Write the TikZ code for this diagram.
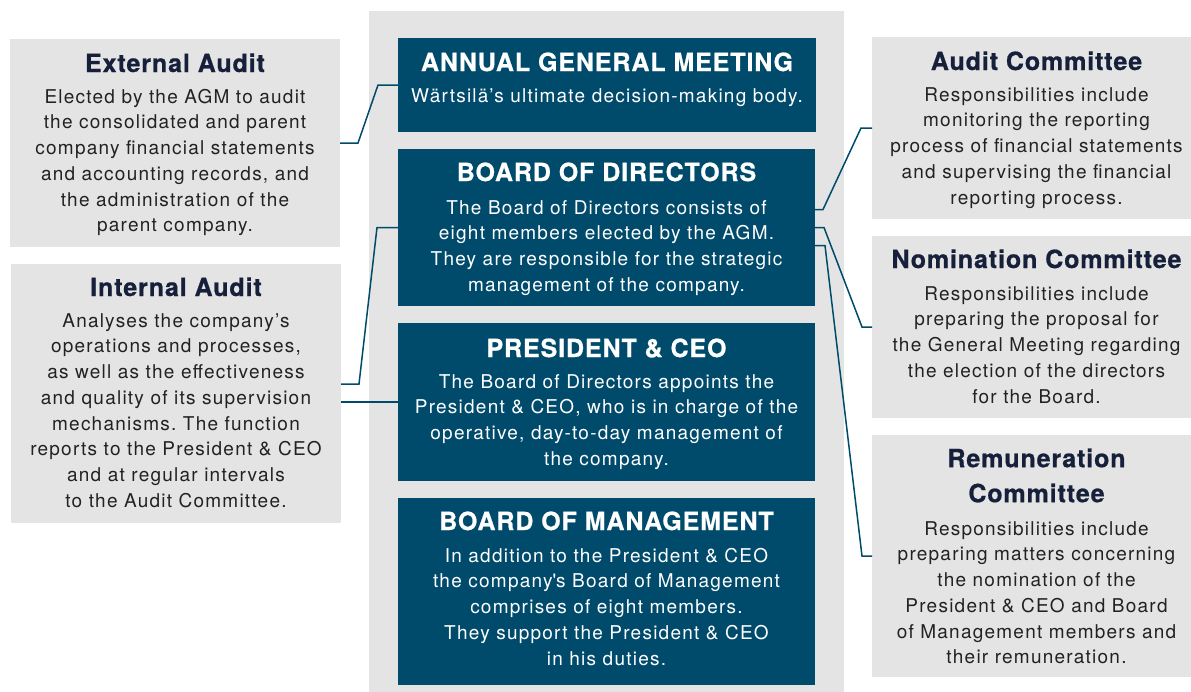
\documentclass[tikz,border=0pt]{standalone}
\usepackage{fontspec}
\setmainfont{TeX Gyre Heros}
\newfontfamily\bodyfont[LetterSpace=6.5]{TeX Gyre Heros}
\newfontfamily\titlefont[LetterSpace=3.6,BoldFeatures={FakeBold=0.7}]{TeX Gyre Heros}
\usetikzlibrary{calc}
\definecolor{wblue}{HTML}{004B6C}
\definecolor{wgrey}{HTML}{E4E4E4}
\definecolor{wnavy}{HTML}{16203A}
\definecolor{wtext}{HTML}{222222}
\newcommand{\fb}{\rule{0pt}{15pt}}
\newcommand{\ft}{\rule{0pt}{20pt}}
\frenchspacing
\tikzset{
  greybox/.style={fill=wgrey, inner sep=0pt, outer sep=0pt},
  bluebox/.style={fill=wblue, inner sep=0pt, outer sep=0pt},
  ttl/.style={font=\titlefont\bfseries\fontsize{25}{35}\selectfont, text=wnavy, anchor=base, inner sep=0pt, align=center},
  wttl/.style={ttl, text=white},
  bdy/.style={font=\bodyfont\frenchspacing\fontsize{19}{25.7}\selectfont, text=wtext, anchor=north, inner sep=0pt, align=center},
  wbdy/.style={bdy, text=white},
  link/.style={draw=wblue, line width=1.5pt}
}
\begin{document}
\begin{tikzpicture}[x=1pt,y=-1pt]
\useasboundingbox (0,0) rectangle (1191,691);
% central panel
\node[greybox, minimum width=475pt, minimum height=689pt] (panel) at (606.5,355.5) {};
% left boxes
\node[greybox, minimum width=330pt, minimum height=208pt] (ext) at (175,143) {};
\node[greybox, minimum width=330pt, minimum height=259pt] (int) at (176,393.5) {};
% centre boxes
\node[bluebox, minimum width=418pt, minimum height=94pt] (agm) at (607,85) {};
\node[bluebox, minimum width=417pt, minimum height=157pt] (bod) at (606.5,227.5) {};
\node[bluebox, minimum width=417pt, minimum height=158pt] (pres) at (606.5,402) {};
\node[bluebox, minimum width=417pt, minimum height=187pt] (bom) at (606.5,591.5) {};
% right boxes
\node[greybox, minimum width=329pt, minimum height=182pt] (aud) at (1036.5,128) {};
\node[greybox, minimum width=329pt, minimum height=182pt] (nom) at (1036.5,327) {};
\node[greybox, minimum width=329pt, minimum height=242pt] (rem) at (1036.5,556) {};
% connectors
\draw[link] (ext.east) -- ++(18,0) -- ($(agm.west)+(-20,0)$) -- (agm.west);
\draw[link] ($(int.east)+(0,-9.5)$) -- ++(18,0) -- ($(bod.west)+(-21,0)$) -- (bod.west);
\draw[link] (pres.west) -- (pres.west -| int.east);
\draw[link] ($(bod.east)+(0,-18)$) -- ++(8,0) -- ($(aud.west)+(-11,0)$) -- (aud.west);
\draw[link] (bod.east) -- ++(9,0) -- ($(nom.west)+(-10,0)$) -- (nom.west);
\draw[link] ($(bod.east)+(0,18)$) -- ++(10,0) -- ($(rem.west)+(-10,0)$) -- (rem.west);
% texts left
\node[ttl] (extT) at (175,72) {External Audit};
\node[bdy] (extB) at (175,88) {\fb Elected by the AGM to audit\\
the consolidated and parent\\
company financial statements\\
and accounting records, and\\
the administration of the\\
parent company.};
\node[ttl] (intT) at (176,296) {Internal Audit};
\node[bdy] (intB) at (176,312) {\fb Analyses the company’s\\
operations and processes,\\
as well as the effectiveness\\
and quality of its supervision\\
mechanisms. The function\\
reports to the President \& CEO\\
and at regular intervals\\
to the Audit Committee.};
% texts centre
\node[wttl] (agmT) at (607,71) {ANNUAL GENERAL MEETING};
\node[wbdy] (agmB) at (607,87) {\fb Wärtsilä’s ultimate decision-making body.};
\node[wttl] (bodT) at (606.5,181) {BOARD OF DIRECTORS};
\node[wbdy] (bodB) at (606.5,199) {\fb The Board of Directors consists of\\
eight members elected by the AGM.\\
They are responsible for the strategic\\
management of the company.};
\node[wttl] (presT) at (606.5,357) {PRESIDENT \& CEO};
\node[wbdy] (presB) at (606.5,373) {\fb The Board of Directors appoints the\\
President \& CEO, who is in charge of the\\
operative, day-to-day management of\\
the company.};
\node[wttl] (bomT) at (606.5,530) {BOARD OF MANAGEMENT};
\node[wbdy] (bomB) at (606.5,547) {\fb In addition to the President \& CEO\\
the company\textquotesingle s Board of Management\\
comprises of eight members.\\
They support the President \& CEO\\
in his duties.};
% texts right
\node[ttl] (audT) at (1036.5,70) {Audit Committee};
\node[bdy] (audB) at (1036.5,86) {\fb Responsibilities include\\
monitoring the reporting\\
process of financial statements\\
and supervising the financial\\
reporting process.};
\node[ttl] (nomT) at (1036.5,268) {Nomination Committee};
\node[bdy] (nomB) at (1036.5,285) {\fb Responsibilities include\\
preparing the proposal for\\
the General Meeting regarding\\
the election of the directors\\
for the Board.};
\node[ttl, anchor=north] (remT) at (1036.5,447) {\ft Remuneration\\Committee};
\node[bdy] (remB) at (1036.5,520) {\fb Responsibilities include\\
preparing matters concerning\\
the nomination of the\\
President \& CEO and Board\\
of Management members and\\
their remuneration.};
\end{tikzpicture}
\end{document}
